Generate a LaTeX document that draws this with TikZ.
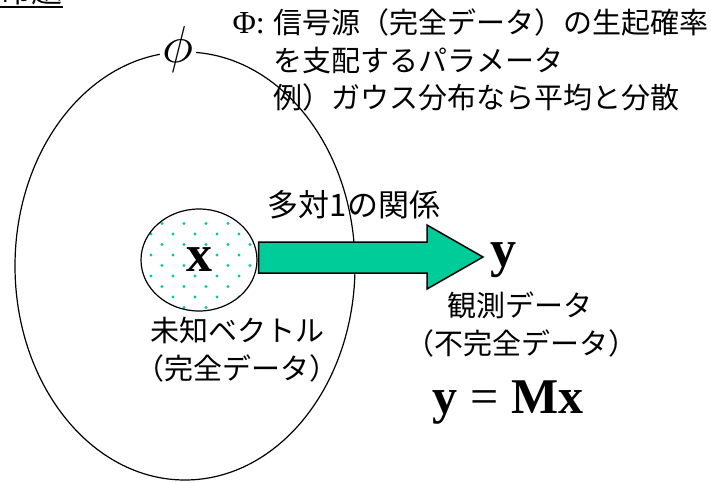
\documentclass[tikz,border=0pt]{standalone}
\usepackage{fontspec}
\newfontfamily\jpfont{Noto Sans CJK JP}
\newfontfamily\tmsfont{Liberation Serif}
\usetikzlibrary{shapes.geometric,calc}
\definecolor{arrowgreen}{RGB}{0,204,153}

\begin{document}
\begin{tikzpicture}[x=0.5pt, y=-0.5pt, line width=0.6pt,
  jp/.style={font=\jpfont\fontsize{14.5}{18.75}\selectfont, inner sep=0pt},
  vec/.style={font=\tmsfont\bfseries\fontsize{26}{26}\selectfont, inner sep=0pt}]
  \useasboundingbox (0,0) rectangle (711,482);
  % heading, cut off at the top
  \node[jp, font=\jpfont\fontsize{15.5}{16}\selectfont, anchor=base west] (title) at (0,3) {命題};
  \draw[line width=1.2pt] ([yshift=-2pt]title.base west) -- ([yshift=-2pt]title.base east);
  % parameter space
  \draw (185,266) ellipse [x radius=85pt, y radius=107pt];
  \node[fill=white, inner sep=1.5pt] (phi) at (178,49) {\scalebox{2.6}{$\phi$}};
  \node[jp, anchor=west] (phidef) at (232,64)
    {\begin{tabular}{@{}r@{\hspace{4.5pt}}l@{}}
      {\tmsfont\fontsize{16}{18.75}\selectfont Φ:} & 信号源（完全データ）の生起確率\\
      & を支配するパラメータ\\
      & 例）ガウス分布なら平均と分散
    \end{tabular}};
  % unknown vector
  \node[draw, ellipse, minimum width=58pt, minimum height=51pt, inner sep=0pt, vec,
    path picture={\foreach \r in {0,...,10} \foreach \c in {0,...,6}
      \fill[arrowgreen] ({-68+22*\c+11*mod(\r,2)}, {-48.5+10.5*\r}) circle (0.8pt);}] (xnode) at (199,260) {x};
  \node[jp] (unk) at (237,330) {未知ベクトル};
  \node[jp] (unkc) at (237,368) {（完全データ）};
  % many-to-one arrow
  \coordinate (tip) at (483,257);
  \draw[fill=arrowgreen, line width=0.75pt] ($(xnode.east)+(1,-18)$) -- (427,242) -- (427,225) -- (tip)
    -- (427,289) -- (427,273) -- ($(xnode.east)+(1,13)$) -- cycle;
  \node[jp, font=\jpfont\fontsize{15.5}{18}\selectfont] (rel) at (354,205) {多対1の関係};
  % observation
  \node[vec, anchor=base west] (ynode) at (490,266) {y};
  \node[jp] (obs) at (520,305) {観測データ};
  \node[jp] (obsc) at (521,343) {（不完全データ）};
  \node[font=\tmsfont\fontsize{25}{25}\selectfont, anchor=base] (eq) at (508,413) {\textbf{y} = \textbf{Mx}};
\end{tikzpicture}
\end{document}
